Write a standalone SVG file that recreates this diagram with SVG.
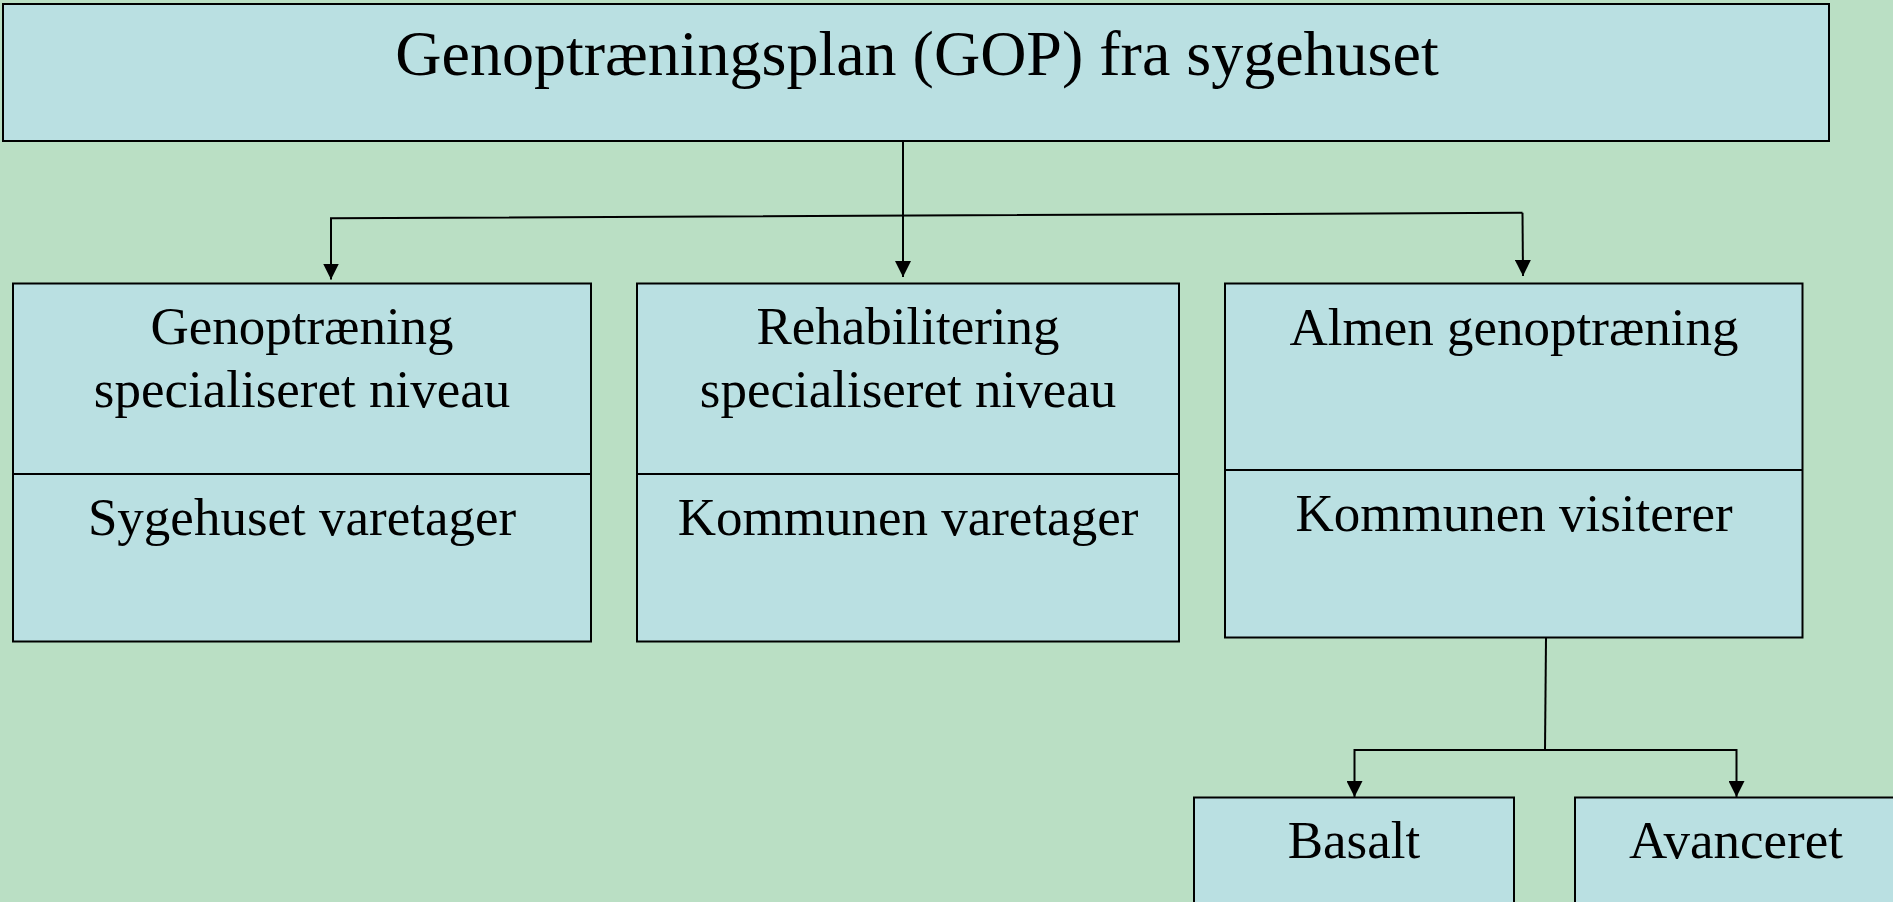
<svg xmlns="http://www.w3.org/2000/svg" width="1893" height="902" viewBox="0 0 1893 902">
<style>
.box{fill:#BAE0E2;stroke:#000;stroke-width:2}
.div{stroke:#000;stroke-width:2}
.t{font-family:"Liberation Serif","Times New Roman",serif;fill:#000;text-anchor:middle}
.big{font-size:64px}
.mid{font-size:53px}
.c{fill:none;stroke:#000;stroke-width:2}
</style>
<defs>
<marker id="ah" viewBox="0 0 10 10" refX="10" refY="5" markerWidth="16" markerHeight="16" markerUnits="userSpaceOnUse" orient="auto">
<path d="M0,0 L10,5 L0,10 z" fill="#000"/>
</marker>
</defs>
<rect width="1893" height="902" fill="#BADFC4"/>
<g id="connectors">
<path class="c" d="M903,141 L903,277" marker-end="url(#ah)"/>
<path class="c" d="M1522.5,212.7 L331,218.3 L331,279.5" marker-end="url(#ah)"/>
<path class="c" d="M1522.5,212.7 L1523,276" marker-end="url(#ah)"/>
<path class="c" d="M1546,638 L1545,750"/>
<path class="c" d="M1545,750 L1354.5,750 L1354.5,797" marker-end="url(#ah)"/>
<path class="c" d="M1545,750 L1736.5,750 L1736.5,797" marker-end="url(#ah)"/>
</g>
<g id="gop">
<rect class="box" x="3" y="4" width="1826" height="137"/>
<text class="t big" x="917" y="75">Genoptræningsplan (GOP) fra sygehuset</text>
</g>
<g id="specialiseret-genoptraening">
<rect class="box" x="13" y="283.5" width="578" height="358"/>
<line class="div" x1="13" y1="474" x2="591" y2="474"/>
<text class="t mid" x="302" y="344">Genoptræning</text>
<text class="t mid" x="302" y="406.5">specialiseret niveau</text>
<text class="t mid" x="302" y="535">Sygehuset varetager</text>
</g>
<g id="rehabilitering">
<rect class="box" x="637" y="283.5" width="542" height="358"/>
<line class="div" x1="637" y1="474" x2="1179" y2="474"/>
<text class="t mid" x="908" y="344">Rehabilitering</text>
<text class="t mid" x="908" y="406.5">specialiseret niveau</text>
<text class="t mid" x="908" y="535">Kommunen varetager</text>
</g>
<g id="almen-genoptraening">
<rect class="box" x="1225" y="283.5" width="577.5" height="354"/>
<line class="div" x1="1225" y1="470" x2="1802.5" y2="470"/>
<text class="t mid" x="1514" y="344.5">Almen genoptræning</text>
<text class="t mid" x="1514" y="531">Kommunen visiterer</text>
</g>
<g id="basalt">
<rect class="box" x="1194" y="797.5" width="320" height="120"/>
<text class="t mid" x="1354" y="858">Basalt</text>
</g>
<g id="avanceret">
<rect class="box" x="1575" y="797.5" width="322" height="120"/>
<text class="t mid" x="1736" y="858">Avanceret</text>
</g>
</svg>
